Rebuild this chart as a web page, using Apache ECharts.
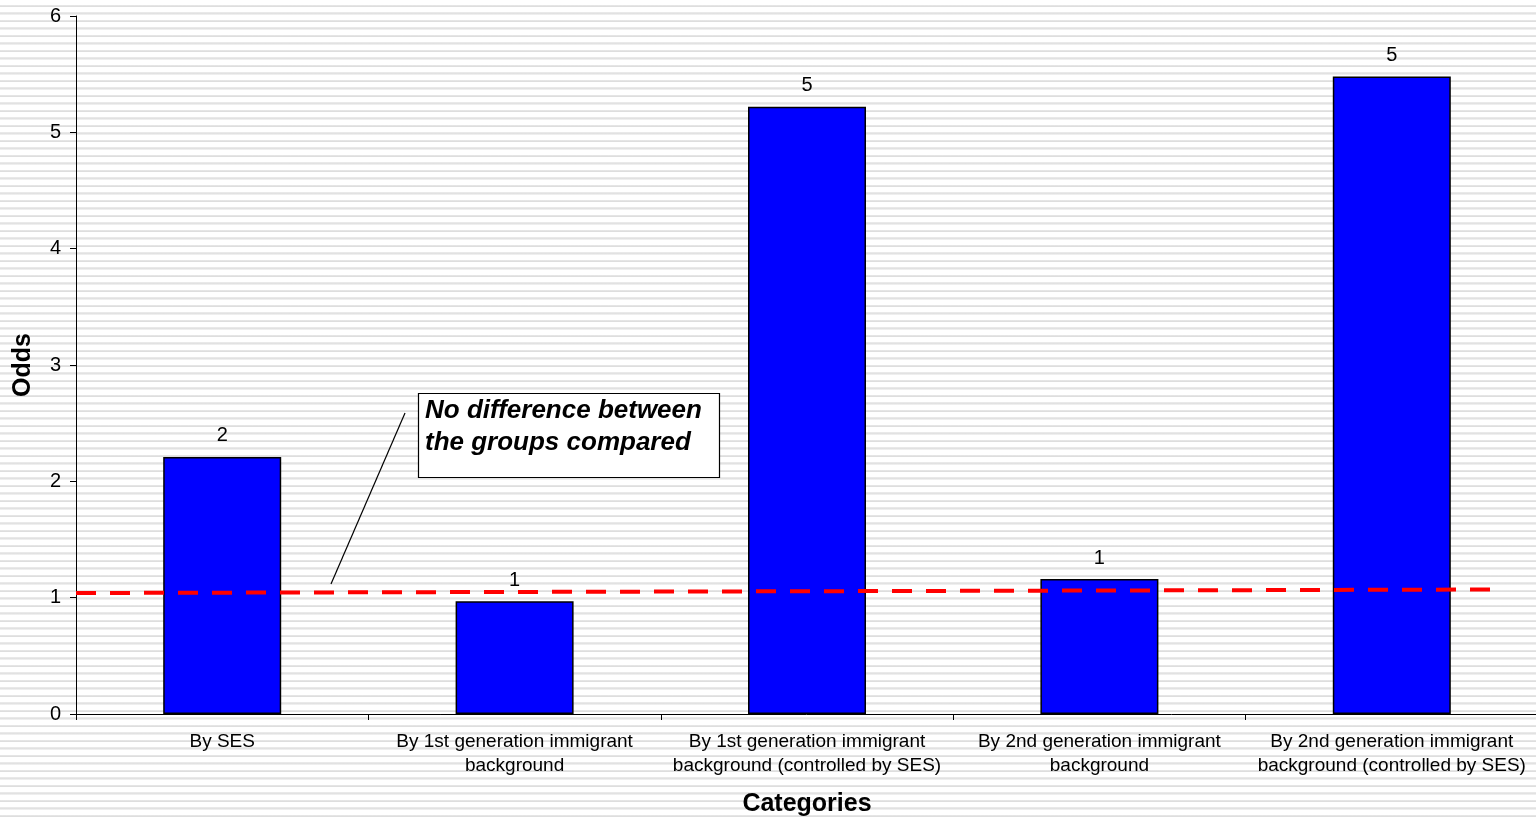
<!DOCTYPE html>
<html>
<head>
<meta charset="utf-8">
<script src="https://cdn.jsdelivr.net/npm/echarts@6/dist/echarts.min.js"></script>
<style>
  html, body { margin: 0; padding: 0; }
  body {
    width: 1536px; height: 818px; overflow: hidden;
    background: repeating-linear-gradient(to bottom,
      #ffffff 0px, #ffffff 5px, #e9e9e9 5px, #dedede 6.5px, #ffffff 7.5px);
  }
  #chart { width: 1536px; height: 818px; }
</style>
</head>
<body>
<div id="chart"></div>
<script>
// Odds ratios by comparison group
const categories = [
  'By SES',
  'By 1st generation immigrant\nbackground',
  'By 1st generation immigrant\nbackground (controlled by SES)',
  'By 2nd generation immigrant\nbackground',
  'By 2nd generation immigrant\nbackground (controlled by SES)'
];
const odds = [2.21, 0.97, 5.22, 1.16, 5.48];

// "No difference" reference line, drawn on a hidden 0–5 value axis spanning the categories
const refLineX = [0, 4.86];
const refLineY = [1.04, 1.07];

const yTicks = { min: 0, max: 6, interval: 1 };

const FONT = '"Liberation Sans", Arial, sans-serif';

const chart = echarts.init(document.getElementById('chart'), null, { renderer: 'canvas' });

chart.setOption({
  backgroundColor: 'transparent',
  animation: false,
  grid: { left: 76, right: -2, top: 16, bottom: 104, containLabel: false, outerBoundsMode: 'none' },
  xAxis: [
    {
      type: 'category',
      data: categories,
      boundaryGap: true,
      name: 'Categories',
      nameLocation: 'middle',
      nameGap: 78,
      nameTextStyle: { fontFamily: FONT, fontSize: 25, fontWeight: 'bold', color: '#000' },
      axisLine: { lineStyle: { color: '#000', width: 1 } },
      axisTick: { show: true, length: 6, lineStyle: { color: '#000' } },
      axisLabel: {
        interval: 0, margin: 16, color: '#000',
        fontFamily: FONT, fontSize: 19, lineHeight: 24, align: 'center'
      },
      splitLine: { show: false }
    },
    {
      type: 'value', min: 0, max: 5, show: false
    }
  ],
  yAxis: {
    type: 'value',
    min: yTicks.min, max: yTicks.max, interval: yTicks.interval,
    name: 'Odds',
    nameLocation: 'middle',
    nameRotate: 90,
    nameGap: 40,
    nameTextStyle: { fontFamily: FONT, fontSize: 25, fontWeight: 'bold', color: '#000' },
    axisLine: { show: true, lineStyle: { color: '#000', width: 1 } },
    axisTick: { show: true, length: 6, lineStyle: { color: '#000' } },
    axisLabel: { margin: 15, color: '#000', fontFamily: FONT, fontSize: 20 },
    splitLine: { show: false }
  },
  series: [
    {
      type: 'bar',
      data: odds,
      barWidth: 118,
      itemStyle: { color: '#0000ff', borderColor: '#000', borderWidth: 1.5 },
      label: {
        show: true, position: 'top', distance: 11,
        color: '#000', fontFamily: FONT, fontSize: 20,
        formatter: p => String(Math.round(p.value))
      },
      z: 2
    },
    {
      type: 'line',
      xAxisIndex: 1,
      data: refLineX.map((x, i) => [x, refLineY[i]]),
      symbol: 'none',
      silent: true,
      lineStyle: { color: '#ff0000', width: 4, type: [20, 14] },
      z: 5
    }
  ],
  graphic: [
    {
      type: 'line',
      shape: { x1: 405, y1: 413, x2: 331, y2: 584 },
      style: { stroke: '#000', lineWidth: 1.2 },
      z: 10
    },
    {
      type: 'rect',
      shape: { x: 418.5, y: 393.5, width: 301, height: 84 },
      style: { fill: '#fff', stroke: '#000', lineWidth: 1.2 },
      z: 10
    },
    {
      type: 'text',
      x: 425, y: 395,
      style: {
        text: 'No difference between\nthe groups compared',
        font: 'italic bold 26px ' + FONT,
        fill: '#000',
        lineHeight: 32,
        verticalAlign: 'top',
        align: 'left'
      },
      z: 11
    }
  ]
});
</script>
</body>
</html>
